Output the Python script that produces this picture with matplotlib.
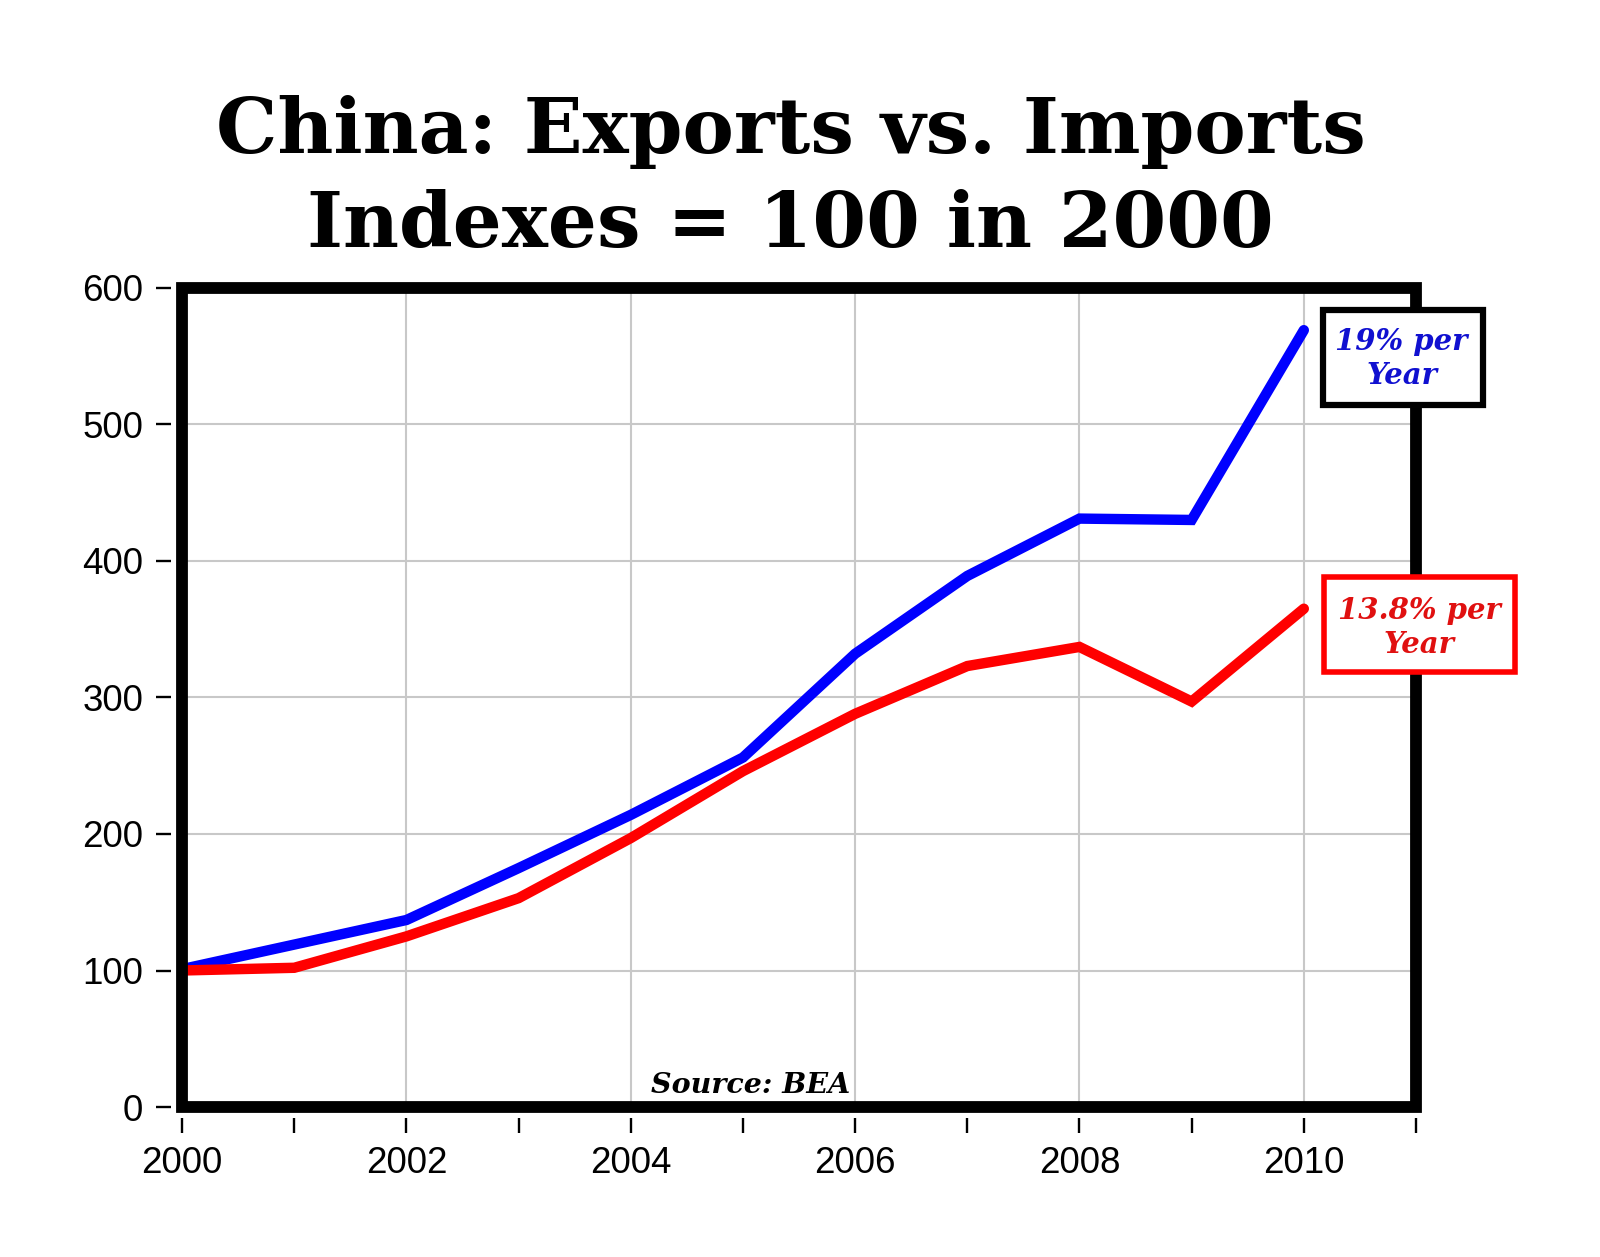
import matplotlib.pyplot as plt
import numpy as np
from matplotlib.patches import Rectangle
from matplotlib.ticker import MultipleLocator

years = np.arange(2000, 2011)
exports = [101, 119, 137, 175, 214, 256, 332, 389, 431, 430, 569]
imports = [100, 102, 125, 153, 197, 246, 288, 323, 337, 297, 365]

title_1 = 'China: Exports vs. Imports'
title_2 = 'Indexes = 100 in 2000'
exports_note = '19% per\nYear'
imports_note = '13.8% per\nYear'
source = 'Source: BEA'

blue = '#0000ff'
red = '#ff0000'

fig = plt.figure(figsize=(16, 12.57), dpi=100)
ax = fig.add_axes([0.1138, 0.1193, 0.7712, 0.6517])

ax.plot(years, exports, color=blue, lw=7.5, solid_capstyle='round', solid_joinstyle='miter', zorder=3)
ax.plot(years, imports, color=red, lw=7.5, solid_capstyle='round', solid_joinstyle='miter', zorder=3)

ax.set_xlim(2000, 2011)
ax.set_ylim(0, 600)
ax.xaxis.set_major_locator(MultipleLocator(2))
ax.xaxis.set_minor_locator(MultipleLocator(1))
ax.yaxis.set_major_locator(MultipleLocator(100))
ax.set_xticks([2000, 2002, 2004, 2006, 2008, 2010])
ax.grid(True, which='major', color='#c8c8c8', lw=1.5)
ax.set_axisbelow(True)

# ticks sit away from the frame, so the frame is drawn by hand
for s in ['left', 'bottom']:
    ax.spines[s].set_position(('outward', 8))
    ax.spines[s].set_visible(False)
for s in ['right', 'top']:
    ax.spines[s].set_visible(False)
ax.add_patch(Rectangle((0, 0), 1, 1, transform=ax.transAxes, fill=False,
                       edgecolor='black', lw=8.5, clip_on=False, zorder=4))

ax.tick_params(which='both', direction='out', length=11, width=1.7, color='black',
               labelsize=26.5, pad=9)
ax.tick_params(which='minor', labelbottom=False)
for lab in ax.get_xticklabels() + ax.get_yticklabels():
    lab.set_fontfamily('Liberation Sans')

fig.text(0.494, 0.8783, title_1, ha='center', va='baseline', fontsize=55.5,
         fontweight='bold', family='DejaVu Serif')
fig.text(0.494, 0.8035, title_2, ha='center', va='baseline', fontsize=55.5,
         fontweight='bold', family='DejaVu Serif')

fig.add_artist(Rectangle((0.827, 0.6775), 0.0998, 0.0757, transform=fig.transFigure,
                         facecolor='white', edgecolor='black', lw=4.5, zorder=5))
fig.text(0.876, 0.715, exports_note, ha='center', va='center', fontsize=21,
         fontweight='bold', style='italic', family='DejaVu Serif', color='#1010d0',
         linespacing=1.2, zorder=6)

fig.add_artist(Rectangle((0.8275, 0.4650), 0.1195, 0.0757, transform=fig.transFigure,
                         facecolor='white', edgecolor=red, lw=4, zorder=5))
fig.text(0.887, 0.501, imports_note, ha='center', va='center', fontsize=21,
         fontweight='bold', style='italic', family='DejaVu Serif', color='#e01010',
         linespacing=1.2, zorder=6)

fig.text(0.469, 0.1305, source, ha='center', va='baseline', fontsize=20.5,
         fontweight='bold', style='italic', family='DejaVu Serif', zorder=6)

plt.savefig('out.png')
